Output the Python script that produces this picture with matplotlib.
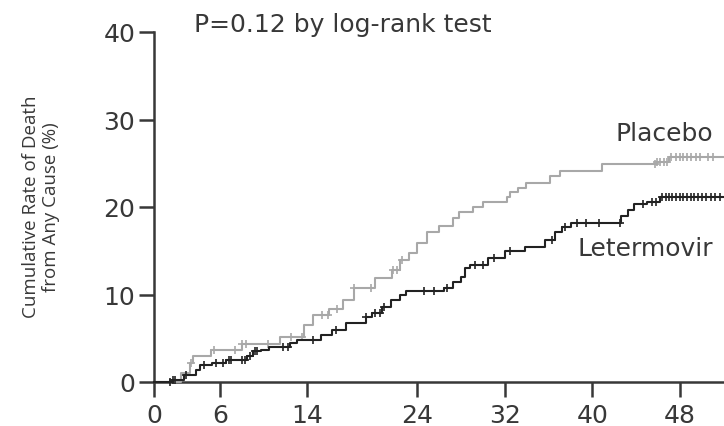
import numpy as np
import matplotlib
matplotlib.use("Agg")
from matplotlib import pyplot as plt

plt.rcParams['font.family'] = ['DejaVu Sans']

# step curves (months, cumulative %)
placebo_t = [0, 2.5, 3.3, 3.6, 5.2, 8.0, 11.5, 13.7, 14.5, 16.0, 17.2, 18.2, 20.2, 21.7, 22.4,
             23.3, 24.0, 24.9, 26.0, 27.3, 27.8, 29.1, 30.0, 32.2, 32.5, 33.2, 33.9, 36.1, 37.0,
             40.9, 45.9, 47.0, 52.0]
placebo_v = [0, 1.0, 2.2, 3.0, 3.7, 4.3, 5.2, 6.5, 7.7, 8.3, 9.4, 10.7, 11.9, 12.8, 14.0,
             14.8, 15.9, 17.1, 17.8, 18.8, 19.4, 20.0, 20.6, 21.1, 21.7, 22.2, 22.8, 23.5, 24.1,
             24.9, 25.2, 25.7, 25.7]
placebo_cens = [3.4, 5.5, 7.4, 8.0, 8.4, 10.4, 12.5, 13.5, 15.3, 15.9, 16.7, 18.2, 19.8,
                21.8, 22.2, 22.6, 45.7, 45.9, 46.2, 46.5, 46.8, 47.2, 47.6, 48.0, 48.3,
                48.6, 49.0, 49.4, 49.8, 50.5, 51.0]

leter_t = [0, 1.7, 2.7, 3.8, 4.2, 5.3, 6.6, 8.5, 9.0, 9.8, 10.5, 12.4, 13.0, 15.2, 16.2, 17.5,
           19.3, 19.9, 20.8, 21.6, 22.4, 23.0, 26.5, 27.3, 28.0, 28.4, 28.8, 30.5, 32.0, 33.8,
           35.7, 36.6, 37.2, 38.0, 42.6, 43.2, 43.8, 45.0, 46.2, 52.0]
leter_v = [0, 0.2, 0.8, 1.4, 1.9, 2.2, 2.5, 3.0, 3.5, 3.7, 4.0, 4.5, 4.8, 5.4, 6.0, 6.8,
           7.4, 7.9, 8.6, 9.4, 10.0, 10.4, 10.8, 11.4, 12.0, 13.0, 13.4, 14.2, 15.0, 15.4,
           16.2, 17.1, 17.7, 18.2, 19.0, 19.7, 20.3, 20.6, 21.1, 21.1]
leter_cens = [1.5, 1.7, 1.9, 2.9, 4.6, 5.7, 6.3, 6.8, 7.0, 8.0, 8.3, 8.8, 9.2, 9.4, 11.8,
              12.2, 14.5, 16.6, 19.3, 20.2, 20.6, 21.0, 24.6, 25.5, 26.7, 29.3, 30.0, 31.0,
              32.5, 36.3, 37.5, 38.6, 39.4, 40.6, 42.5, 44.6, 45.4, 45.8, 46.3, 46.7, 47.0,
              47.3, 47.6, 48.0, 48.3, 48.6, 49.0, 49.3, 49.6, 50.0, 50.4, 50.8, 51.2, 51.6]

xticks = [0, 6, 14, 24, 32, 40, 48]
yticks = [0, 10, 20, 30, 40]

grey = '#a8a8a8'
black = '#222222'
txt = '#383838'


def step_at(ts, vs, c):
    idx = np.searchsorted(ts, c, side='right') - 1
    return np.array(vs)[idx]


fig = plt.figure(figsize=(7.24, 4.27), dpi=100)
ax = fig.add_axes([154 / 724, 44 / 427, 1 - 154 / 724, 350 / 427])

for ts, vs, cens, col in [(placebo_t, placebo_v, placebo_cens, grey),
                          (leter_t, leter_v, leter_cens, black)]:
    ax.plot(ts, vs, drawstyle='steps-post', color=col, lw=1.5, clip_on=False, zorder=3)
    ax.plot(cens, step_at(ts, vs, cens), ls='none', marker='+', ms=5.5, mew=1.2,
            color=col, clip_on=False, zorder=3)

ax.set_xlim(0, 52)
ax.set_ylim(0, 40)
ax.set_xticks(xticks)
ax.set_yticks(yticks)
for s in ['top', 'right']:
    ax.spines[s].set_visible(False)
for s in ['left', 'bottom']:
    ax.spines[s].set_linewidth(1.8)
    ax.spines[s].set_color(txt)
ax.tick_params(axis='both', direction='out', length=10.5, width=1.8, color=txt,
               labelsize=18, labelcolor=txt)
ax.tick_params(axis='x', pad=4.5)
ax.tick_params(axis='y', pad=3)

fig.text(194 / 724, 1 - 25 / 427, 'P=0.12 by log-rank test', fontsize=18, color=txt,
         va='center', ha='left')
fig.text(616 / 724, 1 - 134 / 427, 'Placebo', fontsize=18, color=txt, va='center', ha='left')
fig.text(578 / 724, 1 - 249 / 427, 'Letermovir', fontsize=18, color=txt, va='center', ha='left')
fig.text(41 / 724, 1 - 207 / 427, 'Cumulative Rate of Death\nfrom Any Cause (%)', rotation=90,
         fontsize=13.5, color=txt, va='center', ha='center', linespacing=1.15,
         family='Open Sans')

fig.savefig('out.png', dpi=100)
